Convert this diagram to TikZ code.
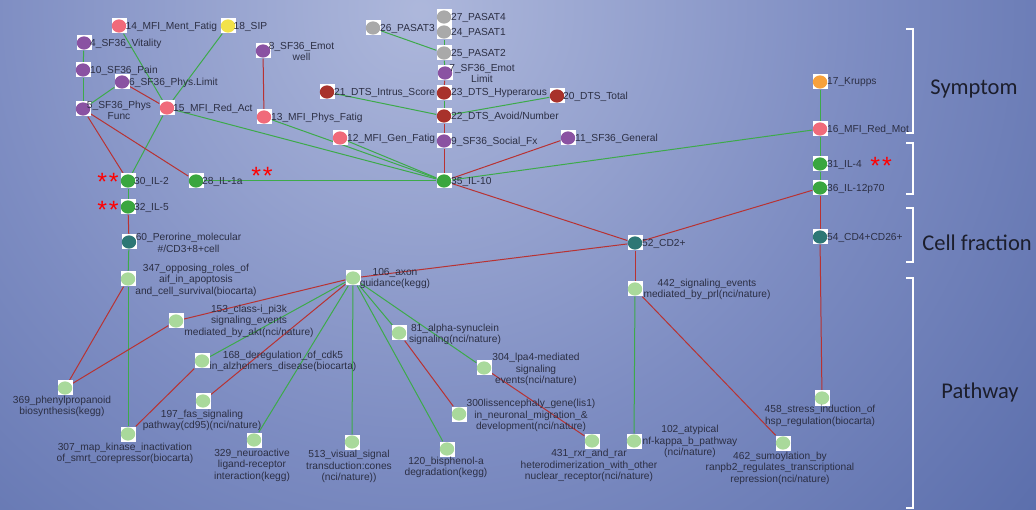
\documentclass[tikz,border=0pt]{standalone}
\usepackage{fontspec}
\setmainfont{Liberation Sans}
\newfontfamily\calfont{Carlito}
\definecolor{cpink}{HTML}{F06A7A}
\definecolor{cpurple}{HTML}{8A52A2}
\definecolor{cyellow}{HTML}{F2E24A}
\definecolor{cgray}{HTML}{A9A9A9}
\definecolor{cdred}{HTML}{A8322B}
\definecolor{corange}{HTML}{F7A13C}
\definecolor{cgreen}{HTML}{3AA63F}
\definecolor{cteal}{HTML}{2D7775}
\definecolor{clgreen}{HTML}{A9D99B}
\definecolor{egreen}{HTML}{3DAA4A}
\definecolor{ered}{HTML}{B83232}
\definecolor{labc}{HTML}{2C2F44}
\definecolor{catc}{HTML}{1C1E2C}
\pgfdeclareradialshading{bgshade}{\pgfpoint{0bp}{0bp}}{rgb(0bp)=(0.68,0.72,0.86); rgb(14.5bp)=(0.49,0.55,0.76); rgb(29.6bp)=(0.32,0.40,0.65); rgb(42.8bp)=(0.20,0.27,0.53); rgb(50bp)=(0.17,0.24,0.50)}
\pgfdeclarelayer{bg}
\pgfsetlayers{bg,main}
\begin{document}
\begin{tikzpicture}[x=1pt,y=-1pt,
  nd/.style={fill=white, draw=none, minimum size=15pt, inner sep=0pt,
    path picture={\fill[#1] (path picture bounding box.center) ellipse (7.2pt and 6.6pt);}},
  lbl/.style={inner sep=0pt, text=labc, font=\fontsize{10.2}{11.4}\selectfont, align=center},
  lr/.style={lbl, anchor=west},
  ge/.style={draw=egreen, line width=1pt},
  re/.style={draw=ered, line width=1pt},
  stars/.style={text=red, font=\fontsize{25}{25}\selectfont, inner sep=0pt, anchor=base},
  brk/.style={draw=white, line width=2.6pt},
  cat/.style={font=\calfont\fontsize{22.5}{27}\selectfont, text=catc, inner sep=0pt}
]
\useasboundingbox (0,0) rectangle (1036,510);
\begin{pgfonlayer}{bg}
\begin{scope}
\clip (0,0) rectangle (1036,510);
\shade[shading=bgshade] (-340,-750) rectangle (1180,770);
\end{scope}
\end{pgfonlayer}

% symptom nodes
\node[nd=cpink] (n14) at (119,26) {};
\node[nd=cyellow] (n18) at (228,26) {};
\node[nd=cpurple] (n4) at (84,43) {};
\node[nd=cpurple] (n8) at (263,51) {};
\node[nd=cpurple] (n10) at (83,70) {};
\node[nd=cpurple] (n6) at (122,82) {};
\node[nd=cpurple] (n5) at (83,109) {};
\node[nd=cpink] (n15) at (167,108) {};
\node[nd=cpink] (n13) at (264,117) {};
\node[nd=cpink] (n12) at (340,138) {};
\node[nd=cgray] (n26) at (373,28) {};
\node[nd=cgray] (n27) at (444,17) {};
\node[nd=cgray] (n24) at (444,32) {};
\node[nd=cgray] (n25) at (444,53) {};
\node[nd=cpurple] (n7) at (445,73) {};
\node[nd=cdred] (n21) at (327,92) {};
\node[nd=cdred] (n23) at (444,93) {};
\node[nd=cdred] (n20) at (557,96) {};
\node[nd=cdred] (n22) at (444,116) {};
\node[nd=cpurple] (n9) at (444,141) {};
\node[nd=cpurple] (n11) at (568,138) {};
\node[nd=corange] (n17) at (820,82) {};
\node[nd=cpink] (n16) at (820,129) {};
% cytokines
\node[nd=cgreen] (n30) at (128,181) {};
\node[nd=cgreen] (n28) at (196,181) {};
\node[nd=cgreen] (n35) at (444,181) {};
\node[nd=cgreen] (n31) at (820,164) {};
\node[nd=cgreen] (n36) at (820,188) {};
\node[nd=cgreen] (n32) at (128,207) {};
% cell fraction
\node[nd=cteal] (n60) at (129,242) {};
\node[nd=cteal] (n52) at (635,243) {};
\node[nd=cteal] (n54) at (820,237) {};
% pathway
\node[nd=clgreen] (n347) at (128,279) {};
\node[nd=clgreen] (n106) at (353,278) {};
\node[nd=clgreen] (n442) at (635,289) {};
\node[nd=clgreen] (n153) at (176,321) {};
\node[nd=clgreen] (n81) at (399,333) {};
\node[nd=clgreen] (n168) at (202,361) {};
\node[nd=clgreen] (n304) at (484,368) {};
\node[nd=clgreen] (n369) at (65,388) {};
\node[nd=clgreen] (n197) at (203,401) {};
\node[nd=clgreen] (n300) at (459,414) {};
\node[nd=clgreen] (n458) at (822,398) {};
\node[nd=clgreen] (n307) at (128,434) {};
\node[nd=clgreen] (n329) at (254,440) {};
\node[nd=clgreen] (n513) at (352,442) {};
\node[nd=clgreen] (n120) at (447,449) {};
\node[nd=clgreen] (n431) at (592,441) {};
\node[nd=clgreen] (n102) at (634,441) {};
\node[nd=clgreen] (n462) at (783,443) {};

% edges
\begin{pgfonlayer}{bg}
\foreach \a/\b in {14/15,18/15,4/10,10/5,6/5,15/30,15/35,13/35,12/35,26/25,24/25,25/7,23/22,21/22,20/22,16/35,28/35,17/16,16/31,31/36,30/32,60/347,347/307,442/102,106/168,106/329,106/513,106/120,106/81,106/304}
  \draw[ge] (n\a) -- (n\b);
\foreach \a/\b in {6/15,5/30,5/28,8/13,7/23,22/9,9/35,11/35,35/52,36/52,36/54,54/458,32/60,347/369,369/153,153/106,106/197,307/168,106/52,52/442,442/462,81/300,304/431}
  \draw[re] (n\a) -- (n\b);
\end{pgfonlayer}

% single-line labels
\node[lr] (l14) at (125.5,26.5) {14\_MFI\_Ment\_Fatig};
\node[lr] (l18) at (233.5,26.5) {18\_SIP};
\node[lr] (l4) at (90,43.5) {4\_SF36\_Vitality};
\node[lr] (l10) at (90,70.5) {10\_SF36\_Pain};
\node[lr] (l6) at (129,82.5) {6\_SF36\_Phys.Limit};
\node[lr] (l15) at (173,108.5) {15\_MFI\_Red\_Act};
\node[lr] (l13) at (271,117.5) {13\_MFI\_Phys\_Fatig};
\node[lr] (l12) at (347,138.5) {12\_MFI\_Gen\_Fatig};
\node[lr] (l26) at (380,28.5) {26\_PASAT3};
\node[lr] (l27) at (451,17.5) {27\_PASAT4};
\node[lr] (l24) at (451,32.5) {24\_PASAT1};
\node[lr] (l25) at (451,53.5) {25\_PASAT2};
\node[lr] (l21) at (334,92.5) {21\_DTS\_Intrus\_Score};
\node[lr] (l23) at (451,93.5) {23\_DTS\_Hyperarous};
\node[lr] (l20) at (563,96.5) {20\_DTS\_Total};
\node[lr] (l22) at (451,116.5) {22\_DTS\_Avoid/Number};
\node[lr] (l9) at (451,141.5) {9\_SF36\_Social\_Fx};
\node[lr] (l11) at (575,138.5) {11\_SF36\_General};
\node[lr] (l35) at (451,181.5) {35\_IL-10};
\node[lr] (l30) at (134,181.5) {30\_IL-2};
\node[lr] (l28) at (202,181.5) {28\_IL-1a};
\node[lr] (l32) at (134,207.5) {32\_IL-5};
\node[lr] (l17) at (827,82.5) {17\_Krupps};
\node[lr] (l16) at (827,129.5) {16\_MFI\_Red\_Mot};
\node[lr] (l31) at (827,164.5) {31\_IL-4};
\node[lr] (l36) at (827,188.5) {36\_IL-12p70};
\node[lr] (l54) at (827,237.5) {54\_CD4+CD26+};
\node[lr] (l52) at (642,243.5) {52\_CD2+};

% multi-line labels
\node[lbl] (l8) at (301.5,51.5) {8\_SF36\_Emot\\well};
\node[lbl] (l5) at (119,110.4) {5\_SF36\_Phys\\Func};
\node[lbl] (l7) at (482,73.4) {7\_SF36\_Emot\\Limit};
\node[lbl] (l60) at (188.5,242.8) {60\_Perorine\_molecular\\\#/CD3+8+cell};
\node[lbl] (l347) at (196,280) {347\_opposing\_roles\_of\\aif\_in\_apoptosis\\and\_cell\_survival(biocarta)};
\node[lbl] (l106) at (395,278.5) {106\_axon\\guidance(kegg)};
\node[lbl] (l153) at (249,321) {153\_class-i\_pi3k\\signaling\_events\\mediated\_by\_akt(nci/nature)};
\node[lbl] (l168) at (283,361.2) {168\_deregulation\_of\_cdk5\\in\_alzheimers\_disease(biocarta)};
\node[lbl] (l369) at (62,406.5) {369\_phenylpropanoid\\biosynthesis(kegg)};
\node[lbl] (l197) at (202,420.2) {197\_fas\_signaling\\pathway(cd95)(nci/nature)};
\node[lbl] (l307) at (125,453.5) {307\_map\_kinase\_inactivation\\of\_smrt\_corepressor(biocarta)};
\node[lbl] (l329) at (252,465) {329\_neuroactive\\ligand-receptor\\interaction(kegg)};
\node[lbl] (l513) at (349,466.5) {513\_visual\_signal\\transduction:cones\\(nci/nature))};
\node[lbl] (l120) at (446,467.5) {120\_bisphenol-a\\degradation(kegg)};
\node[lbl] (l81) at (455,334.5) {81\_alpha-synuclein\\signaling(nci/nature)};
\node[lbl] (l304) at (536,369.5) {304\_lpa4-mediated\\signaling\\events(nci/nature)};
\node[lbl] (l300) at (531,415.5) {300lissencephaly\_gene(lis1)\\in\_neuronal\_migration\_\&\\development(nci/nature)};
\node[lbl] (l431) at (589,465.7) {431\_rxr\_and\_rar\\heterodimerization\_with\_other\\nuclear\_receptor(nci/nature)};
\node[lbl] (l442) at (707,289.5) {442\_signaling\_events\\mediated\_by\_prl(nci/nature)};
\node[lbl] (l102) at (690,441.5) {102\_atypical\\nf-kappa\_b\_pathway\\(nci/nature)};
\node[lbl] (l462) at (780,468) {462\_sumoylation\_by\\ranpb2\_regulates\_transcriptional\\repression(nci/nature)};
\node[lbl] (l458) at (820,416) {458\_stress\_induction\_of\\hsp\_regulation(biocarta)};

% significance marks
\node[stars] (s30) at (108,190.5) {*\hspace{2pt}*};
\node[stars] (s32) at (108,218.5) {*\hspace{2pt}*};
\node[stars] (s28) at (262,184.5) {*\hspace{2pt}*};
\node[stars] (s31) at (881,174.5) {*\hspace{2pt}*};

% brackets
\draw[brk] (906,29) -- (913,29) -- (913,133) -- (906,133);
\draw[brk] (906,143) -- (913,143) -- (913,194) -- (906,194);
\draw[brk] (906,208) -- (913,208) -- (913,262) -- (906,262);
\draw[brk] (906,278) -- (913,278) -- (913,508) -- (906,508);

\node[cat] (cSym) at (974,89) {Symptom};
\node[cat] (cCell) at (977,243) {Cell fraction};
\node[cat] (cPath) at (980,393) {Pathway};
\end{tikzpicture}
\end{document}
